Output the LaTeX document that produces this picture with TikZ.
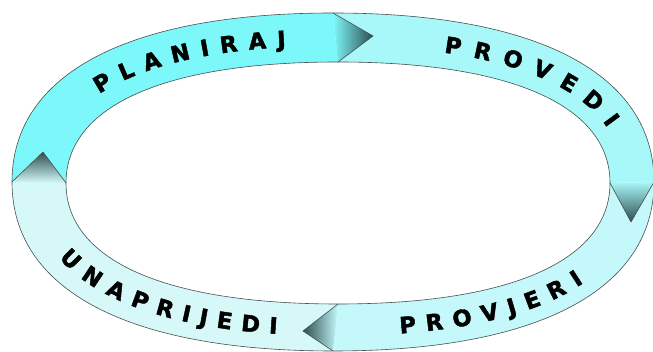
\documentclass[tikz,border=0pt]{standalone}
\usepackage{fontspec}
\usepackage{tikz}
\usetikzlibrary{decorations.text}
\newfontfamily\ringfont{DejaVu Sans}[BoldFeatures={FakeBold=2}]
\newcommand\wordfont{\ringfont\bfseries\fontsize{22.5}{27}\selectfont}
\definecolor{planblue}{RGB}{125, 248, 250}
\definecolor{doblue}{RGB}{168, 247, 249}
\definecolor{checkblue}{RGB}{196, 248, 250}
\definecolor{actblue}{RGB}{214, 248, 248}
\definecolor{tipdark}{RGB}{45, 78, 80}
\definecolor{rimgrey}{RGB}{70, 80, 80}

\begin{document}
\begin{tikzpicture}[
    x=1pt, y=1pt,
    rim/.style={draw=rimgrey, line width=0.6pt},
    word/.style={decorate, decoration={text along path, raise=-8.2pt}},
  ]
  \useasboundingbox (0,0) rectangle (653,352);
  \wordfont

  % ── ring corners ─────────────────────────────────
  \coordinate (oL) at (12,170);
  \coordinate (oT) at (333,339);
  \coordinate (oR) at (654,170);
  \coordinate (oB) at (333,1);
  \coordinate (iL) at (66,169);
  \coordinate (iT) at (338,290);
  \coordinate (iR) at (610,169);
  \coordinate (iB) at (338,48);
  \coordinate (mL) at (39,169.5);
  \coordinate (mT) at (335.5,314.5);
  \coordinate (mR) at (632,169.5);
  \coordinate (mB) at (335.5,24.5);

  \coordinate (tipA) at (373,316);
  \coordinate (tipB) at (631,130);
  \coordinate (tipC) at (303,21);
  \coordinate (tipD) at (43,200);

  % ── quarters ─────────────────────────────────────
  \fill[planblue] (oL) .. controls +(0,108) and +(-205,0) .. (oT)
        -- (iT) .. controls +(-174,0) and +(0,77) .. (iL) -- cycle;
  \fill[doblue] (oT) .. controls +(205,0) and +(0,108) .. (oR)
        -- (iR) .. controls +(0,77) and +(174,0) .. (iT) -- cycle;
  \fill[checkblue] (oR) .. controls +(0,-108) and +(205,0) .. (oB)
        -- (iB) .. controls +(174,0) and +(0,-77) .. (iR) -- cycle;
  \fill[actblue] (oB) .. controls +(-205,0) and +(0,-108) .. (oL)
        -- (iL) .. controls +(0,-77) and +(-174,0) .. (iB) -- cycle;

  % ── arrow heads ──────────────────────────────────
  \shade[left color=planblue, right color=tipdark] (oT) -- (tipA) -- (iT) -- cycle;
  \shade[top color=doblue, bottom color=tipdark] (iR) -- (tipB) -- (oR) -- cycle;
  \shade[right color=checkblue, left color=tipdark] (oB) -- (tipC) -- (iB) -- cycle;
  \shade[bottom color=actblue, top color=tipdark] (oL) -- (tipD) -- (iL) -- cycle;

  % ── outlines ─────────────────────────────────────
  \draw[rim] (oL) .. controls +(0,108) and +(-205,0) .. (oT)
        .. controls +(205,0) and +(0,108) .. (oR)
        .. controls +(0,-108) and +(205,0) .. (oB)
        .. controls +(-205,0) and +(0,-108) .. (oL);
  \draw[rim] (iL) .. controls +(0,77) and +(-174,0) .. (iT)
        .. controls +(174,0) and +(0,77) .. (iR)
        .. controls +(0,-77) and +(174,0) .. (iB)
        .. controls +(-174,0) and +(0,-77) .. (iL);
  \draw[rim] (oT) -- (tipA) -- (iT);
  \draw[rim] (iR) -- (tipB) -- (oR);
  \draw[rim] (oB) -- (tipC) -- (iB);
  \draw[rim] (oL) -- (tipD) -- (iL);

  % ── words ────────────────────────────────────────
  \path[word, decoration={text={PLANIRAJ},
        text align={left indent=116pt, right indent=50pt, fit to path}}]
        (mL) .. controls +(0,93) and +(-190,0) .. (mT);
  \path[word, decoration={text={PROVEDI},
        text align={left indent=110pt, right indent=63pt, fit to path}}]
        (mT) .. controls +(190,0) and +(0,93) .. (mR);
  \path[word, decoration={text={UNAPRIJEDI},
        text align={left indent=76pt, right indent=58pt, fit to path}}]
        (mL) .. controls +(0,-93) and +(-190,0) .. (mB);
  \path[word, decoration={text={PROVJERI},
        text align={left indent=64pt, right indent=112pt, fit to path}}]
        (mB) .. controls +(190,0) and +(0,-93) .. (mR);
\end{tikzpicture}
\end{document}
